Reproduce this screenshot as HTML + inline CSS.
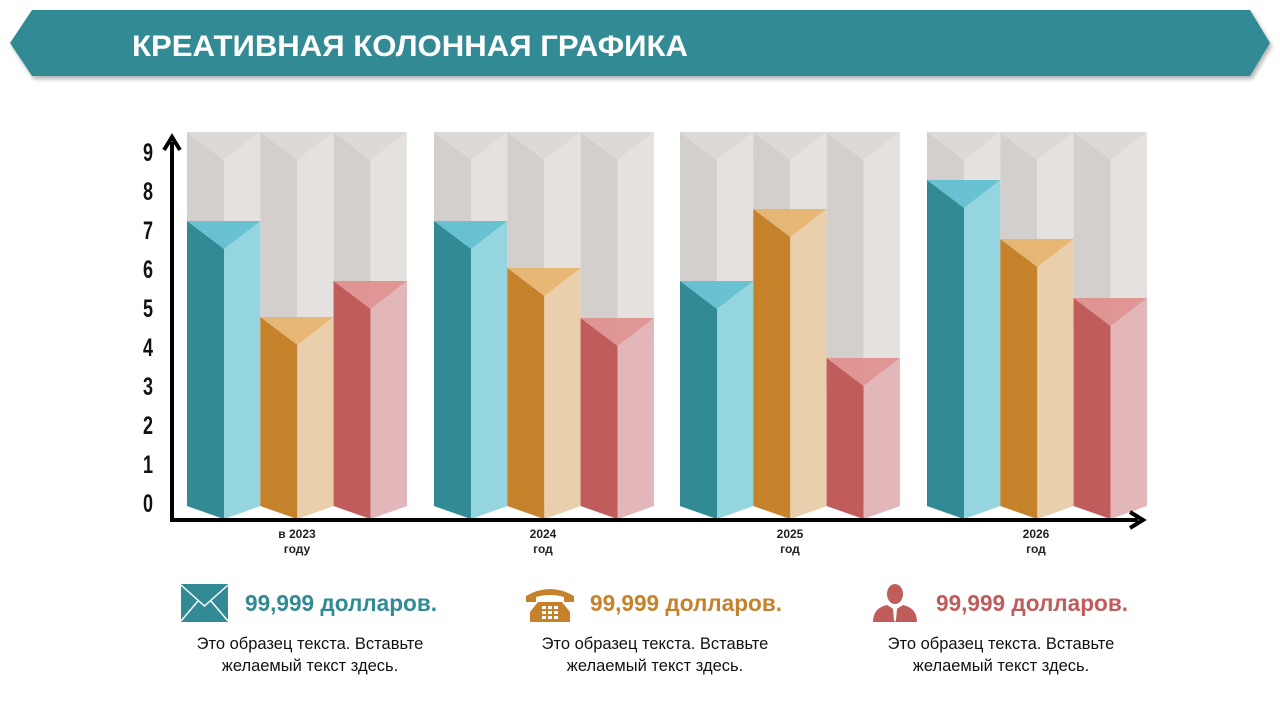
<!DOCTYPE html>
<html><head><meta charset="utf-8"><style>
html,body{margin:0;padding:0;background:#fff;width:1280px;height:720px;overflow:hidden}
svg{position:absolute;left:0;top:0}
text{font-family:"Liberation Sans","DejaVu Sans",sans-serif}
</style></head><body>
<svg id="s" width="1280" height="720" xmlns="http://www.w3.org/2000/svg">
<defs><filter id="sh"><feDropShadow dx="2" dy="3" stdDeviation="2" flood-opacity="0.3"/></filter></defs>
<polygon points="10,43 32,10 1250,10 1270,43 1250,76 32,76" fill="#318a94" filter="url(#sh)"/>
<text x="132" y="56" font-size="30" font-weight="bold" fill="#fff" textLength="556" lengthAdjust="spacingAndGlyphs">КРЕАТИВНАЯ КОЛОННАЯ ГРАФИКА</text>
<g id="bars"></g>
<line x1="172" y1="520" x2="172" y2="142" stroke="#000" stroke-width="4"/>
<polyline points="164,150 172,137 180,150" fill="none" stroke="#000" stroke-width="4"/>
<line x1="170" y1="520" x2="1138" y2="520" stroke="#000" stroke-width="4"/>
<polyline points="1130,512 1143,520 1130,528" fill="none" stroke="#000" stroke-width="4"/>
<g font-size="25" font-weight="bold" text-anchor="middle" fill="#111" transform="scale(0.72,1)">
<text x="205.5" y="161">9</text><text x="205.5" y="200">8</text><text x="205.5" y="239">7</text><text x="205.5" y="278">6</text><text x="205.5" y="317">5</text><text x="205.5" y="356">4</text><text x="205.5" y="395">3</text><text x="205.5" y="434">2</text><text x="205.5" y="473">1</text><text x="205.5" y="512">0</text>
</g>
<g font-size="12" font-weight="bold" text-anchor="middle" fill="#222">
<text x="297" y="538">в 2023</text><text x="297" y="553">году</text>
<text x="543" y="538">2024</text><text x="543" y="553">год</text>
<text x="790" y="538">2025</text><text x="790" y="553">год</text>
<text x="1036" y="538">2026</text><text x="1036" y="553">год</text>
</g>
<rect x="181" y="584" width="47" height="38" fill="#318a94"/>
<polyline points="181,585 204.5,606 228,585" fill="none" stroke="#fff" stroke-width="1.5"/>
<line x1="181" y1="621" x2="198" y2="601" stroke="#fff" stroke-width="1.5"/><line x1="228" y1="621" x2="211" y2="601" stroke="#fff" stroke-width="1.5"/>
<text x="245" y="611" font-size="23" font-weight="bold" fill="#318a94" textLength="192" lengthAdjust="spacingAndGlyphs">99,999 долларов.</text>
<g fill="#c5822b">
<path d="M526,596 q24,-14 48,0 l0,6 l-10,0 l0,-5 q-14,-4 -28,0 l0,5 l-10,0z"/>
<path d="M538,602 l24,0 l8,10 l0,10 l-40,0 l0,-10z"/>
</g>
<g fill="#fff"><rect x="542" y="606" width="4" height="3"/><rect x="548" y="606" width="4" height="3"/><rect x="554" y="606" width="4" height="3"/><rect x="542" y="611" width="4" height="3"/><rect x="548" y="611" width="4" height="3"/><rect x="554" y="611" width="4" height="3"/><rect x="542" y="616" width="4" height="3"/><rect x="548" y="616" width="4" height="3"/><rect x="554" y="616" width="4" height="3"/></g>
<text x="590" y="611" font-size="23" font-weight="bold" fill="#c5822b" textLength="192" lengthAdjust="spacingAndGlyphs">99,999 долларов.</text>
<g fill="#c05c5c">
<ellipse cx="895" cy="594" rx="8" ry="10"/>
<path d="M873,622 q0,-14 14,-17 l8,5 l8,-5 q14,3 14,17z"/>
</g>
<polygon points="893,609 897,609 896,620 895,622 894,620" fill="#fff"/>
<text x="936" y="611" font-size="23" font-weight="bold" fill="#c05c5c" textLength="192" lengthAdjust="spacingAndGlyphs">99,999 долларов.</text>
<g font-size="16.5" text-anchor="middle" fill="#111">
<text x="310" y="649">Это образец текста. Вставьте</text><text x="310" y="671">желаемый текст здесь.</text>
<text x="655" y="649">Это образец текста. Вставьте</text><text x="655" y="671">желаемый текст здесь.</text>
<text x="1001" y="649">Это образец текста. Вставьте</text><text x="1001" y="671">желаемый текст здесь.</text>
</g>
</svg>
<script>
var g=document.getElementById('bars'),ns='http://www.w3.org/2000/svg';
function p(pts,f,o){var e=document.createElementNS(ns,'polygon');e.setAttribute('points',pts.map(a=>a.join(',')).join(' '));e.setAttribute('fill',f);if(o)e.setAttribute('opacity',o);g.appendChild(e);}
var C=[['#318a94','#94d5e0','#5bbfd0'],['#c5822b','#e9cfac','#e8b36a'],['#c05c5c','#e3b6ba','#e08e8e']];
var X=[187,434,680,927],T=[[221,317,281],[221,268,318],[281,209,358],[180,239,298]];
for(var i=0;i<4;i++)for(var j=0;j<3;j++){
var x0=X[i]+j*73.3,x1=x0+73.3,xm=x0+37,t=T[i][j];
p([[x0,132],[xm,160],[xm,519],[x0,506]],'#d3cfcc');
p([[xm,160],[x1,132],[x1,506],[xm,519]],'#e4e1de');
p([[x0,132],[x1,132],[xm,160]],'#dcd9d6');
var c=C[j];
p([[x0,t],[xm,t+28],[xm,519],[x0,506]],c[0]);
p([[xm,t+28],[x1,t],[x1,506],[xm,519]],c[1]);
p([[x0,t],[x1,t],[xm,t+28]],c[2],0.9);
}
</script>
</body></html>
